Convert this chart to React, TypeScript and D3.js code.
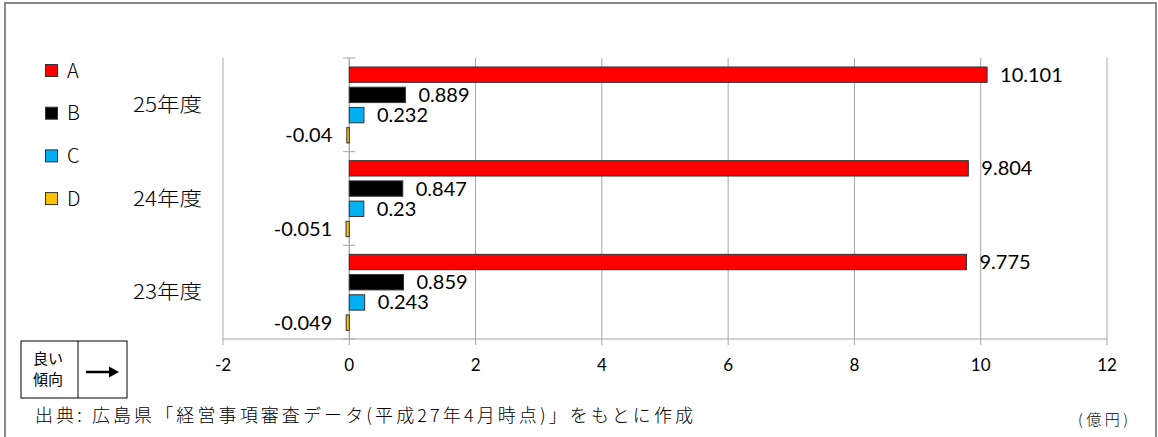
import React from 'react';
import * as d3 from 'd3';

const categories = ['25年度', '24年度', '23年度'];
const seriesNames = ['A', 'B', 'C', 'D'];
const seriesA = [10.101, 9.804, 9.775];
const seriesB = [0.889, 0.847, 0.859];
const seriesC = [0.232, 0.23, 0.243];
const seriesD = [-0.04, -0.051, -0.049];
const seriesColors = ['#FF0000', '#000000', '#00B0F0', '#FFC000'];
const xTicks = [-2, 0, 2, 4, 6, 8, 10, 12];
const sourceText = '出典: 広島県「経営事項審査データ(平成27年4月時点)」をもとに作成';
const unitText = '(億円)';

const W = 1158;
const H = 437;
const NUM_FONT = 'Lato, "Liberation Sans", sans-serif';
const JP_FONT = '"Noto Sans CJK JP", sans-serif';

export default function App() {
  const seriesValues = [seriesA, seriesB, seriesC, seriesD];
  const x = d3.scaleLinear().domain([-2, 12]).range([223, 1107]);
  const y = d3.scaleBand<string>().domain(categories).range([58, 339]).padding(0);
  const inner = d3
    .scaleBand<string>()
    .domain(seriesNames)
    .range([9, 85])
    .paddingInner(0.24)
    .paddingOuter(0);
  const plotTop = 58;
  const plotBottom = 339;
  const fmt = (v: number) => String(v);

  return (
    <svg
      width={W}
      height={H}
      style={{ position: 'absolute', left: 0, top: 0, background: '#fff' }}
    >
      <rect x={5} y={3} width={1151} height={442} fill="#fff" stroke="#898989" strokeWidth={2} />

      {/* gridlines */}
      {xTicks.map((t) => (
        <line
          key={'g' + t}
          x1={x(t)}
          x2={x(t)}
          y1={plotTop}
          y2={plotBottom}
          stroke="#a6a6a6"
          strokeWidth={1}
        />
      ))}
      {/* bottom axis */}
      <line x1={x(-2)} x2={x(12)} y1={plotBottom} y2={plotBottom} stroke="#a6a6a6" strokeWidth={1} />
      {xTicks.map((t) => (
        <line
          key={'t' + t}
          x1={x(t)}
          x2={x(t)}
          y1={plotBottom}
          y2={plotBottom + 6}
          stroke="#a6a6a6"
          strokeWidth={1}
        />
      ))}
      {xTicks.map((t) => (
        <text
          key={'l' + t}
          x={x(t)}
          y={371}
          textAnchor="middle"
          fontFamily={NUM_FONT}
          fontSize={17}
          fill="#000"
        >
          {t}
        </text>
      ))}

      {/* zero axis */}
      <line x1={x(0)} x2={x(0)} y1={plotTop} y2={plotBottom} stroke="#a6a6a6" strokeWidth={1} />
      {[...categories.map((c) => y(c) as number), plotBottom].map((yy, i) => (
        <line
          key={'zt' + i}
          x1={x(0) - 6}
          x2={x(0) + 6}
          y1={yy}
          y2={yy}
          stroke="#a6a6a6"
          strokeWidth={1}
        />
      ))}

      {/* bars */}
      {categories.map((c, ci) => {
        const y0 = y(c) as number;
        return (
          <g key={c}>
            {seriesNames.map((s, si) => {
              const v = seriesValues[si][ci];
              const by = y0 + (inner(s) as number);
              const bh = inner.bandwidth();
              const x0 = x(Math.min(0, v));
              const x1 = x(Math.max(0, v));
              return (
                <g key={s}>
                  <rect
                    x={x0}
                    y={by}
                    width={Math.max(1, x1 - x0)}
                    height={bh}
                    fill={seriesColors[si]}
                    stroke="#333"
                    strokeWidth={1}
                  />
                  <text
                    x={v >= 0 ? x(v) + 13 : x(0) - 17}
                    y={by + bh / 2 + 7}
                    textAnchor={v >= 0 ? 'start' : 'end'}
                    fontFamily={NUM_FONT}
                    fontSize={20}
                    fill="#000"
                  >
                    {fmt(v)}
                  </text>
                </g>
              );
            })}
            <text
              x={133}
              y={y0 + y.bandwidth() / 2 + 7}
              fontFamily={JP_FONT}
              fontSize={20}
              fontWeight={300}
              fill="#000"
              textLength={69}
              lengthAdjust="spacingAndGlyphs"
            >
              {c}
            </text>
          </g>
        );
      })}

      {/* legend */}
      {seriesNames.map((s, i) => {
        const cy = 70.5 + i * 42.7;
        return (
          <g key={'lg' + s}>
            <rect x={45.5} y={cy - 6} width={12} height={12} fill={seriesColors[i]} stroke="#333" strokeWidth={1} />
            <text x={67} y={cy + 7} fontFamily={JP_FONT} fontSize={20} fontWeight={300} fill="#000">
              {s}
            </text>
          </g>
        );
      })}

      {/* good trend box */}
      <rect x={21} y={341} width={106} height={57} fill="#fff" stroke="#000" strokeWidth={1} />
      <line x1={78} x2={78} y1={341} y2={398} stroke="#000" strokeWidth={1} />
      <text x={33} y={364} fontFamily={JP_FONT} fontSize={15} fill="#000">良い</text>
      <text x={33} y={385} fontFamily={JP_FONT} fontSize={15} fill="#000">傾向</text>
      <line x1={86} x2={111} y1={372} y2={372} stroke="#000" strokeWidth={2.5} />
      <path d="M109,366.5 L119,372 L109,377.5 Z" fill="#000" />

      {/* source and unit */}
      <text
        x={35}
        y={422}
        fontFamily={JP_FONT}
        fontSize={18}
        fontWeight={300}
        fill="#000"
        textLength={658}
        lengthAdjust="spacing"
      >
        {sourceText}
      </text>
      <text
        x={1078}
        y={425}
        fontFamily={JP_FONT}
        fontSize={15}
        fontWeight={300}
        fill="#000"
        textLength={50}
        lengthAdjust="spacing"
      >
        {unitText}
      </text>
    </svg>
  );
}
